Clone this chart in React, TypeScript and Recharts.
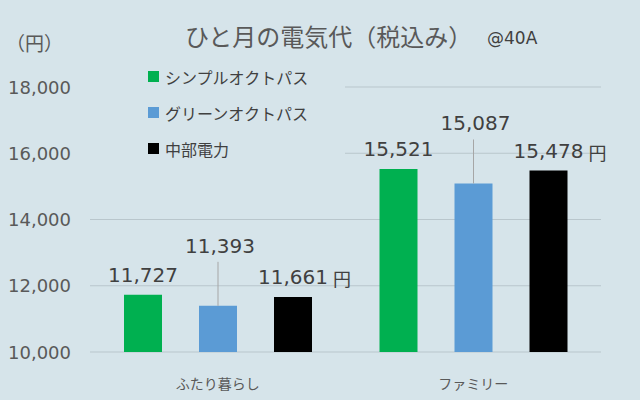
import { Bar, BarChart, CartesianGrid, LabelList, XAxis, YAxis } from "recharts";

const categories = ["ふたり暮らし", "ファミリー"];
const seriesNames = ["シンプルオクトパス", "グリーンオクトパス", "中部電力"];
const simpleOctopus = [11727, 15521];
const greenOctopus = [11393, 15087];
const chubuDenryoku = [11661, 15478];
const yTicks = [10000, 12000, 14000, 16000, 18000];

const seriesKeys = ["simple", "green", "chubu"];
const seriesColors = ["#00b050", "#5b9bd5", "#000000"];

const data = categories.map((name, i) => ({
  name,
  simple: simpleOctopus[i],
  green: greenOctopus[i],
  chubu: chubuDenryoku[i],
}));

const BG = "#d6e4ea";
const NUM_FONT = "'DejaVu Sans', 'Noto Sans CJK JP', sans-serif";
const JP_FONT = "'Noto Sans CJK JP', 'DejaVu Sans', sans-serif";

const fmt = (v: number) => v.toLocaleString("en-US");

function YTick(props: any) {
  return (
    <text x={71} y={props.y} textAnchor="end" dominantBaseline="central" fontSize={18} fill="#595959" fontFamily={NUM_FONT}>
      {fmt(Number(props.payload.value))}
    </text>
  );
}

function XTick(props: any) {
  return (
    <text x={props.x} y={383} textAnchor="middle" dominantBaseline="central" fontSize={14} fill="#595959" fontFamily={JP_FONT}>
      {props.payload.value}
    </text>
  );
}

// plain label above the bar
function TopLabel(props: any) {
  const cx = Number(props.x) + Number(props.width) / 2;
  const top = Number(props.y);
  return (
    <text x={cx} y={top - 20} textAnchor="middle" dominantBaseline="central" fontSize={20} fill="#404040" fontFamily={NUM_FONT}>
      {fmt(Number(props.value))}
    </text>
  );
}

// label lifted up with a leader line
function LeaderLabel(props: any) {
  const cx = Number(props.x) + Number(props.width) / 2;
  const top = Number(props.y);
  return (
    <g>
      <line x1={cx} y1={top} x2={cx} y2={top - 44} stroke="#a6a6a6" strokeWidth={1} />
      <text x={cx + 2} y={top - 60} textAnchor="middle" dominantBaseline="central" fontSize={20} fill="#404040" fontFamily={NUM_FONT}>
        {fmt(Number(props.value))}
      </text>
    </g>
  );
}

// label with unit suffix
function YenLabel(props: any) {
  const cx = Number(props.x) + Number(props.width) / 2;
  const top = Number(props.y);
  return (
    <g>
      <text x={cx} y={top - 20} textAnchor="middle" dominantBaseline="central" fontSize={20} fill="#404040" fontFamily={NUM_FONT}>
        {fmt(Number(props.value))}
      </text>
      <text x={cx + 40} y={top - 19} textAnchor="start" dominantBaseline="central" fontSize={18} fill="#404040" fontFamily={JP_FONT}>
        円
      </text>
    </g>
  );
}

const labelContents = [TopLabel, LeaderLabel, YenLabel];

export default function App() {
  return (
    <div style={{ position: "absolute", left: 0, top: 0, width: 640, height: 400, background: BG }}>
      <BarChart
        width={640}
        height={400}
        data={data}
        margin={{ top: 87, right: 39, left: 10, bottom: 18 }}
        barSize={38}
        barGap={37}
      >
        <CartesianGrid vertical={false} stroke="#b9c6cc" />
        <XAxis dataKey="name" axisLine={false} tickLine={false} height={30} tick={<XTick />} interval={0} />
        <YAxis
          domain={[10000, 18000]}
          ticks={yTicks}
          axisLine={false}
          tickLine={false}
          width={80}
          tick={<YTick />}
        />
        {seriesKeys.map((key, i) => {
          const Content = labelContents[i];
          return (
            <Bar key={key} dataKey={key} name={seriesNames[i]} fill={seriesColors[i]} isAnimationActive={false}>
              <LabelList dataKey={key} content={(p: any) => <Content {...p} />} />
            </Bar>
          );
        })}
      </BarChart>
      <svg width={640} height={400} style={{ position: "absolute", left: 0, top: 0, pointerEvents: "none" }}>
        <text x={6} y={42} dominantBaseline="central" fontSize={19} fill="#595959" fontFamily={JP_FONT}>
          （円）
        </text>
        <text x={185} y={35} dominantBaseline="central" fontSize={24} fill="#595959" fontFamily={JP_FONT}>
          ひと月の電気代（税込み）
        </text>
        <text x={487} y={38} dominantBaseline="central" fontSize={17} fill="#404040" fontFamily={NUM_FONT}>
          @40A
        </text>
        <rect x={89} y={58} width={256} height={107} fill={BG} />
        {seriesNames.map((name, i) => (
          <g key={name}>
            <rect x={148} y={77 + i * 36 - 6} width={11} height={11} fill={seriesColors[i]} />
            <text x={165} y={77 + i * 36} dominantBaseline="central" fontSize={16} fill="#404040" fontFamily={JP_FONT}>
              {name}
            </text>
          </g>
        ))}
      </svg>
    </div>
  );
}
